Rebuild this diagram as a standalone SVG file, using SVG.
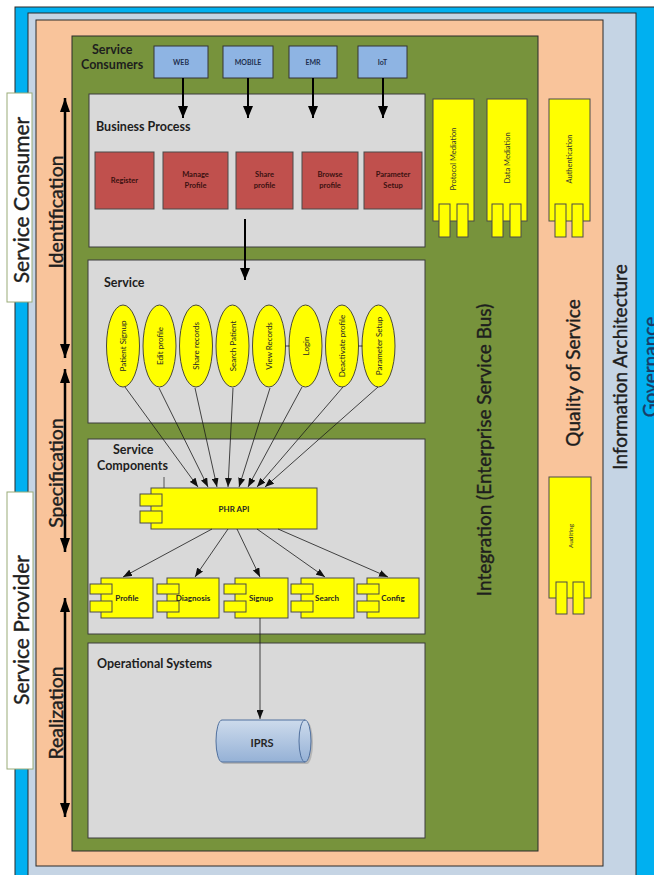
<svg xmlns="http://www.w3.org/2000/svg" width="654" height="875" viewBox="0 0 654 875">
  <defs>
    <style>
      .frame { stroke: #2b2b2b; stroke-width: 1; }
      .panel { fill: #d9d9d9; stroke: #3c3c3c; stroke-width: 1; }
      .hdr { font-family: Lato, "Liberation Sans", sans-serif; font-weight: bold; font-size: 12.5px; fill: #1e1e1e; }
      .cons { fill: #8eb4e3; stroke: #353535; stroke-width: 1; }
      .cons-t { font-family: Lato, "Liberation Sans", sans-serif; font-weight: bold; font-size: 7px; fill: #1f3050; text-anchor: middle; }
      .proc { fill: #c0504d; stroke: #4a4a4a; stroke-width: 1; }
      .proc-t { font-family: Lato, "Liberation Sans", sans-serif; font-weight: bold; font-size: 7.5px; fill: #3a1010; text-anchor: middle; }
      .svc { fill: #ffff00; stroke: #4a4a3a; stroke-width: 1; }
      .svc-t { font-family: Lato, "Liberation Sans", sans-serif; font-size: 8px; fill: #262626; text-anchor: middle; dominant-baseline: central; }
      .comp { fill: #ffff00; stroke: #4a4a4a; stroke-width: 1; }
      .comp-t { font-family: Lato, "Liberation Sans", sans-serif; font-weight: bold; font-size: 8px; fill: #262626; text-anchor: middle; dominant-baseline: central; }
      .side-t { font-family: Lato, "Liberation Sans", sans-serif; font-size: 7.5px; fill: #333333; text-anchor: middle; dominant-baseline: central; }
      .big-t { font-family: Lato, "Liberation Sans", sans-serif; font-size: 19px; fill: #1e1e1e; stroke: #1e1e1e; stroke-width: 0.4; text-anchor: middle; dominant-baseline: central; }
      .gov-t { font-family: Lato, "Liberation Sans", sans-serif; font-size: 19px; fill: #1b3a66; stroke: #1b3a66; stroke-width: 0.4; text-anchor: middle; dominant-baseline: central; }
      .role-t { font-family: Lato, "Liberation Sans", sans-serif; font-size: 21px; fill: #1e1e1e; stroke: #1e1e1e; stroke-width: 0.4; text-anchor: middle; dominant-baseline: central; }
      .phase-t { font-family: Lato, "Liberation Sans", sans-serif; font-size: 19.5px; fill: #1e1e1e; stroke: #1e1e1e; stroke-width: 0.4; text-anchor: middle; dominant-baseline: central; }
      .role { fill: #ffffff; stroke: #9aab78; stroke-width: 1; }
      .link-big { stroke: #000000; stroke-width: 2; fill: none; }
      .link-thin { stroke: #1a1a1a; stroke-width: 0.8; fill: none; }
      .link-side { stroke: #000000; stroke-width: 2.5; fill: none; }
    </style>
    <marker id="headBig" markerUnits="userSpaceOnUse" markerWidth="12" markerHeight="10" refX="12" refY="5" orient="auto">
      <path d="M0,0 L12,5 L0,10 z" fill="#000000"/>
    </marker>
    <marker id="headThin" markerUnits="userSpaceOnUse" markerWidth="9" markerHeight="7" refX="9" refY="3.5" orient="auto">
      <path d="M0,0 L9,3.5 L0,7 z" fill="#111111"/>
    </marker>
    <marker id="headSide" markerUnits="userSpaceOnUse" markerWidth="14" markerHeight="10" refX="14" refY="5" orient="auto-start-reverse">
      <path d="M0,0 L14,5 L0,10 z" fill="#000000"/>
    </marker>
    <linearGradient id="drum" x1="0" y1="0" x2="0" y2="1">
      <stop offset="0" stop-color="#cddbec"/>
      <stop offset="1" stop-color="#95b1d6"/>
    </linearGradient>
  </defs>

  <!-- nested layers -->
  <g id="governance">
    <rect x="15" y="7" width="650" height="880" fill="#00b0f0" class="frame"/>
    <text class="gov-t" transform="translate(649,367) rotate(-90)">Governance</text>
  </g>
  <g id="information-architecture">
    <rect x="28" y="13" width="608" height="875" fill="#c5d4e4" class="frame"/>
    <text class="big-t" transform="translate(619,367) rotate(-90)">Information Architecture</text>
  </g>
  <g id="quality-of-service">
    <rect x="36" y="20" width="567" height="846" fill="#f9c49b" class="frame"/>
    <text class="big-t" transform="translate(572,373) rotate(-90)">Quality of Service</text>
  </g>
  <g id="integration">
    <rect x="72" y="36" width="466" height="815" fill="#77933c" class="frame"/>
    <text class="big-t" transform="translate(483,450) rotate(-90)">Integration (Enterprise Service Bus)</text>
  </g>

  <!-- roles on the left -->
  <g id="service-consumer">
    <rect x="7" y="93" width="25" height="209" class="role"/>
    <text class="role-t" transform="translate(20,200) rotate(-90)">Service Consumer</text>
  </g>
  <g id="service-provider">
    <rect x="7" y="492" width="26" height="277" class="role"/>
    <text class="role-t" transform="translate(20,630) rotate(-90)">Service Provider</text>
  </g>
  <g id="identification">
    <text class="phase-t" transform="translate(55,212) rotate(-90)">Identification</text>
  </g>
  <g id="specification">
    <text class="phase-t" transform="translate(55,473) rotate(-90)">Specification</text>
  </g>
  <g id="realization">
    <text class="phase-t" transform="translate(55,713) rotate(-90)">Realization</text>
  </g>

  <!-- service consumers -->
  <g id="service-consumers">
    <text class="hdr" x="92" y="54">Service</text>
    <text class="hdr" x="81" y="69">Consumers</text>
  </g>
  <g id="web">
    <rect x="154" y="46" width="54" height="32" class="cons"/>
    <text class="cons-t" x="181" y="64.5">WEB</text>
  </g>
  <g id="mobile">
    <rect x="223" y="46" width="50" height="32" class="cons"/>
    <text class="cons-t" x="248" y="64.5">MOBILE</text>
  </g>
  <g id="emr">
    <rect x="289" y="46" width="48" height="32" class="cons"/>
    <text class="cons-t" x="313" y="64.5">EMR</text>
  </g>
  <g id="iot">
    <rect x="358" y="46" width="49" height="32" class="cons"/>
    <text class="cons-t" x="382.5" y="64.5">IoT</text>
  </g>

  <!-- business process -->
  <g id="business-process">
    <rect x="89" y="94" width="336" height="153" class="panel"/>
    <text class="hdr" x="96" y="131">Business Process</text>
  </g>
  <g id="register">
    <rect x="95" y="152" width="59" height="57" class="proc"/>
    <text class="proc-t" x="124.5" y="183">Register</text>
  </g>
  <g id="manage-profile">
    <rect x="163" y="152" width="65" height="57" class="proc"/>
    <text class="proc-t" x="195.5" y="177">Manage</text>
    <text class="proc-t" x="195.5" y="188">Profile</text>
  </g>
  <g id="share-profile">
    <rect x="236" y="152" width="57" height="57" class="proc"/>
    <text class="proc-t" x="264.5" y="177">Share</text>
    <text class="proc-t" x="264.5" y="188">profile</text>
  </g>
  <g id="browse-profile">
    <rect x="302" y="152" width="56" height="57" class="proc"/>
    <text class="proc-t" x="330" y="177">Browse</text>
    <text class="proc-t" x="330" y="188">profile</text>
  </g>
  <g id="parameter-setup-process">
    <rect x="364" y="152" width="58" height="57" class="proc"/>
    <text class="proc-t" x="393" y="177">Parameter</text>
    <text class="proc-t" x="393" y="188">Setup</text>
  </g>

  <!-- mediation and QoS components -->
  <g id="protocol-mediation">
    <rect x="433" y="99" width="41" height="122" class="comp"/>
    <rect x="439" y="204" width="11" height="33" class="comp"/>
    <rect x="457" y="204" width="11" height="33" class="comp"/>
    <text class="side-t" transform="translate(453.5,159) rotate(-90)">Protocol Mediation</text>
  </g>
  <g id="data-mediation">
    <rect x="487" y="99" width="40" height="122" class="comp"/>
    <rect x="492" y="204" width="11" height="33" class="comp"/>
    <rect x="510" y="204" width="11" height="33" class="comp"/>
    <text class="side-t" transform="translate(507,158) rotate(-90)">Data Mediation</text>
  </g>
  <g id="authentication">
    <rect x="549" y="99" width="41" height="122" class="comp"/>
    <rect x="555" y="204" width="11" height="33" class="comp"/>
    <rect x="572" y="204" width="11" height="33" class="comp"/>
    <text class="side-t" transform="translate(569.5,159) rotate(-90)">Authentication</text>
  </g>
  <g id="auditing">
    <rect x="549" y="477" width="42" height="121" class="comp"/>
    <rect x="556" y="582" width="11" height="32" class="comp"/>
    <rect x="573" y="582" width="11" height="32" class="comp"/>
    <text class="side-t" style="font-size:6.5px" transform="translate(570,536) rotate(-90)">Auditing</text>
  </g>

  <!-- services -->
  <g id="service">
    <rect x="88" y="260" width="337" height="163" class="panel"/>
    <text class="hdr" x="104" y="287">Service</text>
  </g>
  <g id="patient-signup">
    <ellipse cx="123" cy="346" rx="16.5" ry="41" class="svc"/>
    <text class="svc-t" transform="translate(123,346) rotate(-90)">Patient Signup</text>
  </g>
  <g id="edit-profile">
    <ellipse cx="159.5" cy="346" rx="16.5" ry="41" class="svc"/>
    <text class="svc-t" transform="translate(159.5,346) rotate(-90)">Edit profile</text>
  </g>
  <g id="share-records">
    <ellipse cx="196" cy="346" rx="16.5" ry="41" class="svc"/>
    <text class="svc-t" transform="translate(196,346) rotate(-90)">Share records</text>
  </g>
  <g id="search-patient">
    <ellipse cx="232.5" cy="346" rx="16.5" ry="41" class="svc"/>
    <text class="svc-t" transform="translate(232.5,346) rotate(-90)">Search Patient</text>
  </g>
  <g id="view-records">
    <ellipse cx="269" cy="346" rx="16.5" ry="41" class="svc"/>
    <text class="svc-t" transform="translate(269,346) rotate(-90)">View Records</text>
  </g>
  <g id="login">
    <ellipse cx="305.5" cy="346" rx="16.5" ry="41" class="svc"/>
    <text class="svc-t" transform="translate(305.5,346) rotate(-90)">Login</text>
  </g>
  <g id="deactivate-profile">
    <ellipse cx="342" cy="346" rx="16.5" ry="41" class="svc"/>
    <text class="svc-t" transform="translate(342,346) rotate(-90)">Deactivate profile</text>
  </g>
  <g id="parameter-setup-service">
    <ellipse cx="378.5" cy="346" rx="16.5" ry="41" class="svc"/>
    <text class="svc-t" transform="translate(378.5,346) rotate(-90)">Parameter Setup</text>
  </g>

  <!-- service components -->
  <g id="service-components">
    <rect x="88" y="439" width="337" height="195" class="panel"/>
    <text class="hdr" x="113" y="454">Service</text>
    <text class="hdr" x="97" y="470">Components</text>
    <line x1="164" y1="477" x2="164" y2="488" stroke="#333333" stroke-width="0.8"/>
  </g>
  <g id="phr-api">
    <rect x="151" y="488" width="166" height="41" class="comp"/>
    <rect x="140" y="494" width="22" height="12" class="comp"/>
    <rect x="140" y="511" width="22" height="12" class="comp"/>
    <text class="comp-t" x="234" y="509">PHR API</text>
  </g>
  <g id="profile">
    <rect x="101" y="578" width="52" height="40" class="comp"/>
    <rect x="90" y="584" width="22" height="10" class="comp"/>
    <rect x="90" y="601" width="22" height="11" class="comp"/>
    <text class="comp-t" x="127" y="598">Profile</text>
  </g>
  <g id="diagnosis">
    <rect x="167" y="578" width="52" height="40" class="comp"/>
    <rect x="157" y="584" width="22" height="10" class="comp"/>
    <rect x="157" y="601" width="22" height="11" class="comp"/>
    <text class="comp-t" x="193" y="598">Diagnosis</text>
  </g>
  <g id="signup">
    <rect x="235" y="578" width="53" height="40" class="comp"/>
    <rect x="224" y="584" width="22" height="10" class="comp"/>
    <rect x="224" y="601" width="22" height="11" class="comp"/>
    <text class="comp-t" x="261" y="598">Signup</text>
  </g>
  <g id="search">
    <rect x="301" y="578" width="53" height="40" class="comp"/>
    <rect x="291" y="584" width="22" height="10" class="comp"/>
    <rect x="291" y="601" width="22" height="11" class="comp"/>
    <text class="comp-t" x="327" y="598">Search</text>
  </g>
  <g id="config">
    <rect x="367" y="578" width="52" height="40" class="comp"/>
    <rect x="357" y="584" width="22" height="10" class="comp"/>
    <rect x="357" y="601" width="22" height="11" class="comp"/>
    <text class="comp-t" x="393" y="598">Config</text>
  </g>

  <!-- operational systems -->
  <g id="operational-systems">
    <rect x="88" y="643" width="337" height="195" class="panel"/>
    <text class="hdr" x="97" y="668">Operational Systems</text>
  </g>
  <g id="iprs">
    <path d="M224,722 L307,722 A6,21 0 0,1 307,764 L224,764 A6,21 0 0,1 224,722 Z" fill="#8a8a8a" opacity="0.45"/>
    <path d="M222,720 L305,720 A6,21 0 0,1 305,762 L222,762 A6,21 0 0,1 222,720 Z" fill="url(#drum)" stroke="#50709e" stroke-width="1"/>
    <path d="M305,720 A6,21 0 0,0 305,762" fill="none" stroke="#50709e" stroke-width="1"/>
    <text class="comp-t" style="font-size:11px" x="262" y="742">IPRS</text>
  </g>

  <!-- connectors -->
  <g id="connectors">
    <line x1="183" y1="78" x2="183" y2="118" class="link-big" marker-end="url(#headBig)"/>
    <line x1="248" y1="78" x2="248" y2="118" class="link-big" marker-end="url(#headBig)"/>
    <line x1="313" y1="78" x2="313" y2="118" class="link-big" marker-end="url(#headBig)"/>
    <line x1="383" y1="78" x2="383" y2="118" class="link-big" marker-end="url(#headBig)"/>
    <line x1="245" y1="219" x2="245" y2="280" class="link-big" marker-end="url(#headBig)"/>

    <line x1="289.5" y1="346" x2="285.5" y2="346" class="link-thin"/>
    <line x1="362.5" y1="346" x2="358.5" y2="346" class="link-thin"/>

    <line x1="125" y1="387" x2="198" y2="487" class="link-thin" marker-end="url(#headThin)"/>
    <line x1="159" y1="388" x2="208" y2="487" class="link-thin" marker-end="url(#headThin)"/>
    <line x1="195" y1="388" x2="217" y2="487" class="link-thin" marker-end="url(#headThin)"/>
    <line x1="233" y1="388" x2="228" y2="487" class="link-thin" marker-end="url(#headThin)"/>
    <line x1="270" y1="388" x2="239" y2="487" class="link-thin" marker-end="url(#headThin)"/>
    <line x1="302" y1="387" x2="248" y2="487" class="link-thin" marker-end="url(#headThin)"/>
    <line x1="343" y1="387" x2="257" y2="487" class="link-thin" marker-end="url(#headThin)"/>
    <line x1="378" y1="387" x2="265" y2="487" class="link-thin" marker-end="url(#headThin)"/>

    <line x1="212" y1="529" x2="123" y2="577" class="link-thin" marker-end="url(#headThin)"/>
    <line x1="228" y1="529" x2="195" y2="577" class="link-thin" marker-end="url(#headThin)"/>
    <line x1="237" y1="529" x2="260" y2="577" class="link-thin" marker-end="url(#headThin)"/>
    <line x1="257" y1="529" x2="325" y2="577" class="link-thin" marker-end="url(#headThin)"/>
    <line x1="278" y1="529" x2="388" y2="577" class="link-thin" marker-end="url(#headThin)"/>

    <line x1="260" y1="618" x2="260" y2="719" class="link-thin" marker-end="url(#headThin)"/>

    <line x1="65" y1="98" x2="65" y2="358" class="link-side" marker-start="url(#headSide)" marker-end="url(#headSide)"/>
    <line x1="65" y1="369" x2="65" y2="552" class="link-side" marker-start="url(#headSide)" marker-end="url(#headSide)"/>
    <line x1="65" y1="598" x2="65" y2="817" class="link-side" marker-start="url(#headSide)" marker-end="url(#headSide)"/>
  </g>
</svg>
